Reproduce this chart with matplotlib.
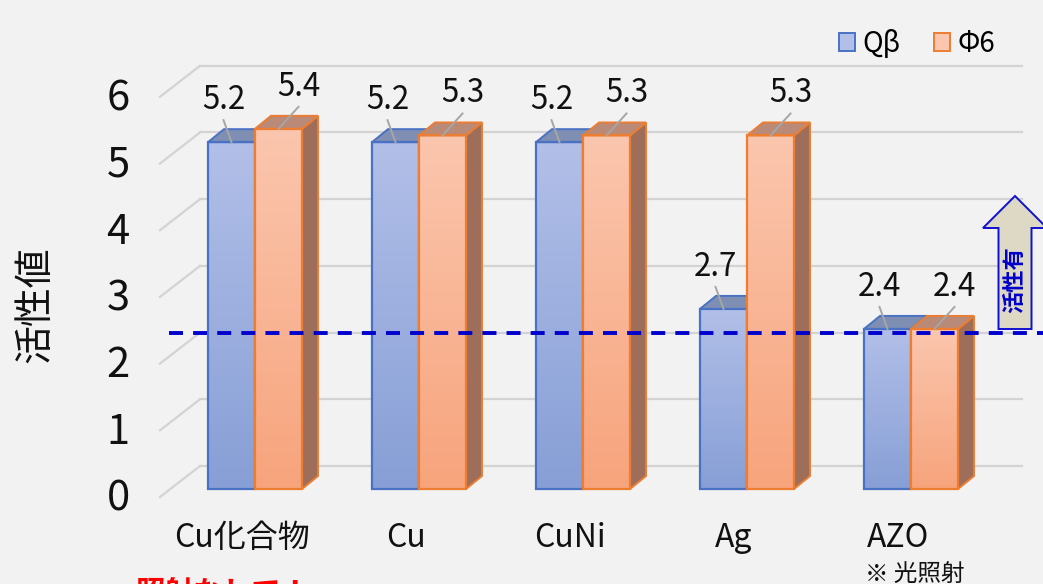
import numpy as np
import matplotlib
matplotlib.use("Agg")
import matplotlib.pyplot as plt
from matplotlib.patches import Rectangle, Polygon, Patch
from matplotlib.colors import LinearSegmentedColormap

plt.rcParams["font.family"] = ["Noto Sans CJK JP", "DejaVu Sans"]

# data
categories = ["Cu化合物", "Cu", "CuNi", "Ag", "AZO"]
series_names = ["Q\u03b2", "\u03a66"]
q_beta = [5.2, 5.2, 5.2, 2.7, 2.4]
phi6 = [5.4, 5.3, 5.3, 5.3, 2.4]
y_ticks = [0, 1, 2, 3, 4, 5, 6]
threshold = 2.34
note_text = "※ 光照射"
red_text = "照射なしで！"

# layout: 1 x-unit = 164 px, 1 y-unit = 66.7 px (bar plane)
XU, YU = 164.0, 66.7
X0, Y0 = 255.0, 489.0          # pixel of group 0 center / value 0


def px(d):
    return d / XU


def py(d):
    return d / YU


BG = "#f1f2f1"
bar_w = px(47)
ddx, ddy = px(16), py(13)      # bar depth offset
front_dx, front_dy = px(-95), py(-8)
back_dx, back_dy = px(-55), py(23)
wall_right = px(1022 - X0)

styles = [
    dict(top="#b2bfe8", bot="#879fd6", edge="#4a72c4", roof="#7f8fb3", side="#6f80a8"),
    dict(top="#fbc6ae", bot="#f7a47c", edge="#ed7d31", roof="#b98a78", side="#9e6e5b"),
]

fig = plt.figure(figsize=(10.43, 5.84), dpi=100, facecolor=BG)
ax = fig.add_axes([0, 0, 1, 1])
ax.set_facecolor(BG)
ax.axis("off")

# grid: side diagonals + back wall lines
for t in y_ticks:
    ax.plot([front_dx, back_dx], [t + front_dy, t + back_dy], color="#d2d3d2", lw=1.6, zorder=1)
    ax.plot([back_dx, wall_right], [t + back_dy, t + back_dy], color="#d2d3d2", lw=1.6, zorder=1)
    ax.text(px(118 - X0), t + front_dy - py(2), str(t), ha="center", va="center",
            fontsize=30, color="#111111")


def draw_bar(left, v, st, z):
    grad = np.linspace(0, 1, 256).reshape(-1, 1)
    cmap = LinearSegmentedColormap.from_list("g", [st["bot"], st["top"]])
    rect = Rectangle((left, 0), bar_w, v, facecolor="none", edgecolor=st["edge"], lw=1.6, zorder=z + 0.5)
    ax.add_patch(rect)
    im = ax.imshow(grad, cmap=cmap, origin="lower", aspect="auto",
                   extent=[left, left + bar_w, 0, v], zorder=z, interpolation="bilinear")
    im.set_clip_path(rect)
    right = left + bar_w
    side = Polygon([(right, 0), (right + ddx, ddy), (right + ddx, v + ddy), (right, v)],
                   closed=True, facecolor=st["side"], edgecolor=st["edge"], lw=1.4, zorder=z)
    roof = Polygon([(left, v), (left + ddx, v + ddy), (right + ddx, v + ddy), (right, v)],
                   closed=True, facecolor=st["roof"], edgecolor=st["edge"], lw=1.4, zorder=z)
    ax.add_patch(side)
    ax.add_patch(roof)


label_shift = [px(-8), px(20)]
for i, cat in enumerate(categories):
    for s, vals in enumerate([q_beta, phi6]):
        v = vals[i]
        left = i - bar_w + s * bar_w
        z = 3 + 2 * s + i * 5
        draw_bar(left, v, styles[s], z)
        cx = left + bar_w / 2
        lx = cx + label_shift[s]
        ly = v + py(42)
        ax.plot([lx, cx], [ly - py(20), v], color="#a6a6a6", lw=1.4, zorder=z + 1)
        ax.text(lx, ly, f"{v:.1f}", ha="center", va="center", fontsize=22.5,
                color="#111111", zorder=40)
    ax.text(i - px(13), py(-49), cat, ha="center", va="center", fontsize=23, color="#111111")

# note under AZO
ax.text(len(categories) - 1 + px(4), py(-85), note_text, ha="center", va="center",
        fontsize=17, color="#111111")

# arrow "活性有"
acx = px(1015 - X0)
a_bot, a_base, a_tip = py(Y0 - 329), py(Y0 - 228), py(Y0 - 196)
sw, hw = px(16.5), px(32)
arrow = Polygon([(acx - sw, a_bot), (acx + sw, a_bot), (acx + sw, a_base), (acx + hw, a_base),
                 (acx, a_tip), (acx - hw, a_base), (acx - sw, a_base)],
                closed=True, facecolor="#ddd9c4", edgecolor="#1010d0", lw=1.4, zorder=50)
ax.add_patch(arrow)
ax.text(acx, py(Y0 - 280), "活性有", rotation=90, ha="center", va="center",
        fontsize=16, fontweight="bold", color="#0000cc", zorder=51)

# threshold line
ax.plot([px(169 - X0), px(1043 - X0)], [threshold, threshold], color="#0000cc", lw=2.8,
        dashes=(3.6, 2.6), zorder=60)

# y label
ax.text(px(35 - X0), py(Y0 - 305), "活性値", rotation=90, ha="center", va="center",
        fontsize=28, color="#111111")

# clipped red remark at bottom
ax.text(px(135 - X0), py(Y0 - 578), red_text, ha="left", va="top", fontsize=21,
        fontweight="bold", color="#ff0000")

handles = [Patch(facecolor=styles[s]["top"], edgecolor=styles[s]["edge"], lw=1.4) for s in range(2)]
ax.legend(handles, series_names, loc="upper right", bbox_to_anchor=(1020 / 1043, 1 - 4 / 584),
          ncol=2, frameon=False, fontsize=20, handlelength=0.6, handleheight=0.6,
          handletextpad=0.25, columnspacing=1.2)

ax.set_xlim(px(0 - X0), px(1043 - X0))
ax.set_ylim(py(Y0 - 584), py(Y0))

fig.savefig("out.png", dpi=100, facecolor=BG)
